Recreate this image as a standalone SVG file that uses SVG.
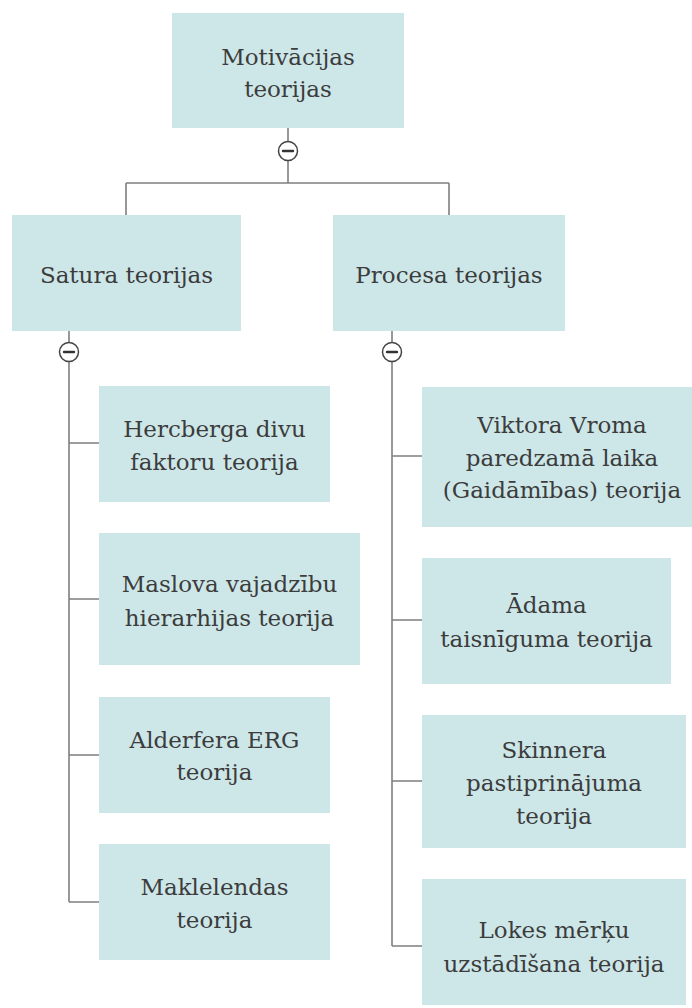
<svg xmlns="http://www.w3.org/2000/svg" width="692" height="1008" viewBox="0 0 692 1008">
<style>
.box{fill:#cde7e9}
.t{font-family:"DejaVu Serif",serif;font-size:23px;fill:#3c3c3c;text-anchor:middle}
.ln{stroke:#7f7f7f;stroke-width:1.6;fill:none}
.tg circle{fill:#fff;stroke:#444;stroke-width:1.5}
.tg line{stroke:#333;stroke-width:2.4;stroke-linecap:round}
</style>
<rect width="692" height="1008" fill="#fff"/>
<g id="connectors">
<path class="ln" d="M288 128V183M126 183H449M126 183V215M449 183V215"/>
<path class="ln" d="M69 331V902M69 443H99M69 599H99M69 755H99M69 902H99"/>
<path class="ln" d="M392 331V946M392 456H422M392 620H422M392 781H422M392 946H422"/>
<g class="tg"><circle cx="288" cy="151" r="9.5"/><line x1="283" y1="151" x2="293" y2="151"/></g>
<g class="tg"><circle cx="69" cy="352" r="9.5"/><line x1="64" y1="352" x2="74" y2="352"/></g>
<g class="tg"><circle cx="392" cy="352" r="9.5"/><line x1="387" y1="352" x2="397" y2="352"/></g>
</g>
<g id="n-root"><rect class="box" x="172" y="13" width="232" height="115"/><text class="t"><tspan x="288" y="65">Motivācijas</tspan><tspan x="288" y="97">teorijas</tspan></text></g>
<g id="n-satura"><rect class="box" x="12" y="215" width="229" height="116"/><text class="t" x="126.5" y="283">Satura teorijas</text></g>
<g id="n-procesa"><rect class="box" x="333" y="215" width="232" height="116"/><text class="t" x="449" y="283">Procesa teorijas</text></g>
<g id="n-hercberga"><rect class="box" x="99" y="386" width="231" height="116"/><text class="t"><tspan x="214.5" y="437">Hercberga divu</tspan><tspan x="214.5" y="470">faktoru teorija</tspan></text></g>
<g id="n-maslova"><rect class="box" x="99" y="533" width="261" height="132"/><text class="t"><tspan x="229.5" y="592">Maslova vajadzību</tspan><tspan x="229.5" y="626">hierarhijas teorija</tspan></text></g>
<g id="n-alderfera"><rect class="box" x="99" y="697" width="231" height="116"/><text class="t"><tspan x="214.5" y="748">Alderfera ERG</tspan><tspan x="214.5" y="780">teorija</tspan></text></g>
<g id="n-maklelendas"><rect class="box" x="99" y="844" width="231" height="116"/><text class="t"><tspan x="214.5" y="895">Maklelendas</tspan><tspan x="214.5" y="928">teorija</tspan></text></g>
<g id="n-viktora"><rect class="box" x="422" y="387" width="278" height="140"/><text class="t"><tspan x="562" y="433">Viktora Vroma</tspan><tspan x="562" y="466">paredzamā laika</tspan><tspan x="562" y="498">(Gaidāmības) teorija</tspan></text></g>
<g id="n-adama"><rect class="box" x="422" y="558" width="249" height="126"/><text class="t"><tspan x="546.5" y="613">Ādama</tspan><tspan x="546.5" y="647">taisnīguma teorija</tspan></text></g>
<g id="n-skinnera"><rect class="box" x="422" y="715" width="264" height="133"/><text class="t"><tspan x="554" y="758">Skinnera</tspan><tspan x="554" y="791">pastiprinājuma</tspan><tspan x="554" y="824">teorija</tspan></text></g>
<g id="n-lokes"><rect class="box" x="422" y="879" width="264" height="126"/><text class="t"><tspan x="554" y="938">Lokes mērķu</tspan><tspan x="554" y="972">uzstādīšana teorija</tspan></text></g>
</svg>
